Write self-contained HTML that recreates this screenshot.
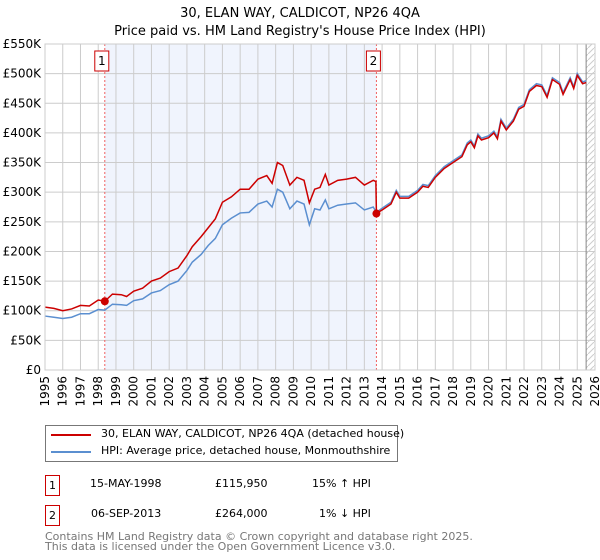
<!DOCTYPE html>
<html><head><meta charset="utf-8"><style>
body{margin:0;background:#fff;font-family:"DejaVu Sans","Liberation Sans",sans-serif;}
#wrap{position:relative;width:600px;height:560px;overflow:hidden;}
.t{position:absolute;font-size:12px;color:#000;white-space:nowrap;}
</style></head><body>
<div id="wrap">
<svg id="chart" width="600" height="420" style="position:absolute;left:0;top:0">
<defs><pattern id="hatch" width="6" height="6" patternUnits="userSpaceOnUse"><path d="M0,6 L6,0" stroke="#ccc" stroke-width="1"/></pattern></defs>
<text x="300" y="17" text-anchor="middle" font-size="13">30, ELAN WAY, CALDICOT, NP26 4QA</text>
<text x="300" y="35" text-anchor="middle" font-size="13">Price paid vs. HM Land Registry's House Price Index (HPI)</text>
<g id="plot"></g>
</svg>
<div style="position:absolute;left:45px;top:425px;width:351px;height:35px;border:1px solid #777;">
 <div style="position:absolute;left:5px;top:8px;width:40px;height:2px;background:#cc0000"></div>
 <div class="t" style="left:55px;top:1px;font-size:11px">30, ELAN WAY, CALDICOT, NP26 4QA (detached house)</div>
 <div style="position:absolute;left:5px;top:25px;width:40px;height:2px;background:#5b8fd0"></div>
 <div class="t" style="left:55px;top:18px;font-size:11px">HPI: Average price, detached house, Monmouthshire</div>
</div>
<div style="position:absolute;left:45px;top:475px;width:13px;height:19px;border:1px solid #cc0000;font-size:11px;text-align:center;line-height:19px">1</div>
<div class="t" style="left:90px;top:477px;font-size:11px">15-MAY-1998</div>
<div class="t" style="left:215px;top:477px;font-size:11px">£115,950</div>
<div class="t" style="left:312px;top:477px;font-size:11px">15% ↑ HPI</div>
<div style="position:absolute;left:45px;top:505px;width:13px;height:19px;border:1px solid #cc0000;font-size:11px;text-align:center;line-height:19px">2</div>
<div class="t" style="left:91px;top:507px;font-size:11px">06-SEP-2013</div>
<div class="t" style="left:215px;top:507px;font-size:11px">£264,000</div>
<div class="t" style="left:319px;top:507px;font-size:11px">1% ↓ HPI</div>
<div class="t" style="left:45px;top:532px;font-size:11px;color:#777;line-height:10px">Contains HM Land Registry data © Crown copyright and database right 2025.<br>This data is licensed under the Open Government Licence v3.0.</div>
</div>
<script>
const redX=[1995,1995.5,1996,1996.5,1997,1997.5,1998,1998.37,1998.8,1999.3,1999.6,2000,2000.5,2001,2001.5,2002,2002.5,2003,2003.3,2003.8,2004.2,2004.6,2005,2005.5,2006,2006.5,2007,2007.5,2007.8,2008.1,2008.4,2008.8,2009.2,2009.6,2009.9,2010.2,2010.5,2010.8,2011,2011.5,2012,2012.5,2013,2013.5,2013.65,2013.68,2014,2014.5,2014.8,2015,2015.5,2016,2016.3,2016.6,2017,2017.5,2018,2018.5,2018.8,2019,2019.2,2019.4,2019.6,2020,2020.3,2020.5,2020.7,2021,2021.4,2021.7,2022,2022.3,2022.7,2023,2023.3,2023.6,2024,2024.2,2024.6,2024.8,2025,2025.3,2025.5];
const redY=[106,104,100,103,109,108,118,116,128,127,124,133,138,150,155,166,172,193,208,225,240,255,283,292,305,305,322,328,315,350,345,312,325,320,282,305,308,330,312,320,322,325,312,320,318,264,270,280,300,290,290,300,310,308,325,340,350,360,380,385,375,395,388,392,400,390,420,405,420,440,445,470,480,478,460,490,482,465,490,475,497,483,485];
const hpiX=[1995,1995.5,1996,1996.5,1997,1997.5,1998,1998.37,1998.8,1999.3,1999.6,2000,2000.5,2001,2001.5,2002,2002.5,2003,2003.3,2003.8,2004.2,2004.6,2005,2005.5,2006,2006.5,2007,2007.5,2007.8,2008.1,2008.4,2008.8,2009.2,2009.6,2009.9,2010.2,2010.5,2010.8,2011,2011.5,2012,2012.5,2013,2013.5,2013.68,2014,2014.5,2014.8,2015,2015.5,2016,2016.3,2016.6,2017,2017.5,2018,2018.5,2018.8,2019,2019.2,2019.4,2019.6,2020,2020.3,2020.5,2020.7,2021,2021.4,2021.7,2022,2022.3,2022.7,2023,2023.3,2023.6,2024,2024.2,2024.6,2024.8,2025,2025.3,2025.5];
const hpiY=[91,89,87,89,95,95,102,101,111,110,109,117,120,130,134,144,150,168,182,195,210,222,245,256,265,266,280,285,275,305,300,272,285,280,245,272,270,287,272,278,280,282,270,275,266,273,283,303,293,293,303,313,311,328,343,353,363,383,388,378,398,391,395,403,393,423,408,423,443,448,473,483,481,463,493,485,468,493,478,500,486,488];
const yTicks=[0,50,100,150,200,250,300,350,400,450,500,550];
const yTickLabels=["£0","£50K","£100K","£150K","£200K","£250K","£300K","£350K","£400K","£450K","£500K","£550K"];
const xTicks=[1995,1996,1997,1998,1999,2000,2001,2002,2003,2004,2005,2006,2007,2008,2009,2010,2011,2012,2013,2014,2015,2016,2017,2018,2019,2020,2021,2022,2023,2024,2025,2026];
const saleX=[1998.37,2013.68];
const saleY=[115.95,264];
const saleLabels=["1","2"];
const L=45,R=595,T=44,B=370,X0=1995,X1=2026,YMAX=550;
const sx=v=>L+(v-X0)/(X1-X0)*(R-L);
const sy=v=>B-v/YMAX*(B-T);
const NS='http://www.w3.org/2000/svg';
const g=document.getElementById('plot');
function mk(tag,attrs){const e=document.createElementNS(NS,tag);for(const k in attrs)e.setAttribute(k,attrs[k]);g.appendChild(e);return e;}
let e;
e=mk('rect',{x:sx(saleX[0]),y:T,width:sx(saleX[1])-sx(saleX[0]),height:B-T,fill:'#f0f4fd'});


e=mk('rect',{x:sx(2025.5),y:T,width:R-sx(2025.5),height:B-T,fill:'url(#hatch)'});


xTicks.forEach(t=>{const x=sx(t);
 e=mk('line',{x1:x,x2:x,y1:T,y2:B,stroke:'#ccc','stroke-width':1});
 
 
 e=mk('text',{x:0,y:0,transform:`translate(${x+4},${B+6}) rotate(-90)`,'text-anchor':'end','font-size':12});
 e.textContent=String(t);
 
 
});
yTicks.forEach((t,i)=>{const y=sy(t);
 e=mk('line',{x1:L,x2:R,y1:y,y2:y,stroke:'#ccc','stroke-width':1});
 
 
 e=mk('text',{x:L-4,y:y+4,'text-anchor':'end','font-size':12});
 e.textContent=yTickLabels[i];
 
 
});
e=mk('line',{x1:sx(2025.5),x2:sx(2025.5),y1:T,y2:B,stroke:'#888','stroke-width':1});


saleX.forEach((s,i)=>{const x=sx(s);
 e=mk('line',{x1:x,x2:x,y1:T,y2:B,stroke:'#f06060','stroke-width':1,'stroke-dasharray':'2,2'});
 
 
 e=mk('rect',{x:x-10,y:51,width:14,height:20,fill:'#fff',stroke:'#cc0000'});
 
 
 e=mk('text',{x:x-3,y:65,'text-anchor':'middle','font-size':12});
 e.textContent=saleLabels[i];
 
 
});
e=mk('polyline',{points:hpiX.map((x,i)=>sx(x)+','+sy(hpiY[i])).join(' '),fill:'none',stroke:'#5b8fd0','stroke-width':1.5});


e=mk('polyline',{points:redX.map((x,i)=>sx(x)+','+sy(redY[i])).join(' '),fill:'none',stroke:'#cc0000','stroke-width':1.5});


saleX.forEach((s,i)=>{
 e=mk('circle',{cx:sx(s),cy:sy(saleY[i]),r:4,fill:'#cc0000'});
 
 
});
e=mk('rect',{x:L,y:T,width:R-L,height:B-T,fill:'none',stroke:'#ccc'});


</script>
</body></html>
